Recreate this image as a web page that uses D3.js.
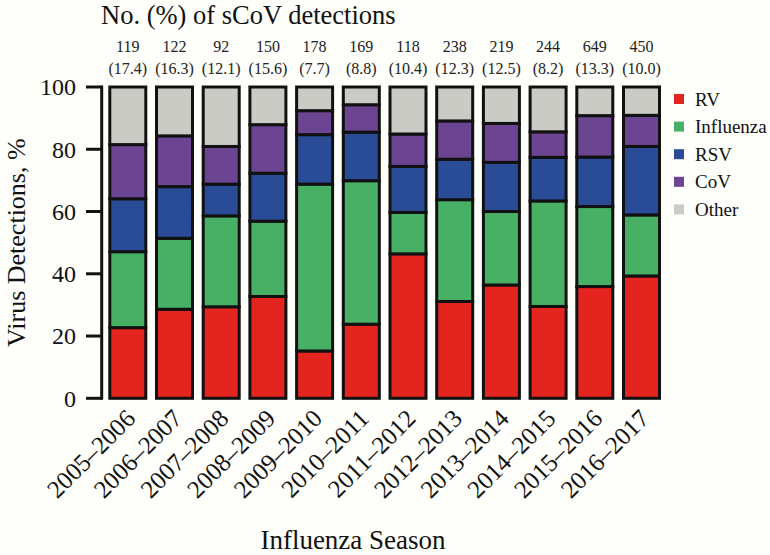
<!DOCTYPE html>
<html><head><meta charset="utf-8">
<script src="https://cdn.jsdelivr.net/npm/d3@7"></script>
<style>
html,body{margin:0;padding:0;background:#fefefa;}
svg{display:block;}
</style></head>
<body>
<script>
const seasons = ["2005–2006","2006–2007","2007–2008","2008–2009","2009–2010","2010–2011","2011–2012","2012–2013","2013–2014","2014–2015","2015–2016","2016–2017"];
const seriesNames = ["RV","Influenza","RSV","CoV","Other"];
const seriesColors = ["#e3241f","#48b065","#2a4b95","#6b4591","#cbcbc6"];
const rv        = [22.7,28.6,29.4,32.7,15.2,23.8,46.4,31.1,36.4,29.5,35.9,39.3];
const influenza = [24.4,22.8,29.2,24.2,53.6,46.1,13.3,32.7,23.6,33.9,25.7,19.6];
const rsv       = [17.0,16.6,10.2,15.4,15.9,15.6,14.8,13.0,15.8,14.0,15.9,22.0];
const cov       = [17.4,16.3,12.1,15.6,7.7,8.8,10.4,12.3,12.5,8.2,13.3,10.0];
const other     = [18.5,15.7,19.1,12.1,7.6,5.7,15.1,10.9,11.7,14.4,9.2,9.1];
const covCounts = [119,122,92,150,178,169,118,238,219,244,649,450];
const covPct    = ["17.4","16.3","12.1","15.6","7.7","8.8","10.4","12.3","12.5","8.2","13.3","10.0"];
const yTicks = [0,20,40,60,80,100];

const FONT = '"Liberation Serif", "Times New Roman", serif';
const W = 770, H = 555;
const svg = d3.select("body").append("svg").attr("width",W).attr("height",H)
  .style("font-family",FONT);
svg.append("rect").attr("width",W).attr("height",H).attr("fill","#fefefa");

const x = d3.scaleBand().domain(seasons).range([108.3,661]).paddingInner(0.165).paddingOuter(0);
const y = d3.scaleLinear().domain([0,100]).range([398.3,87]);

const valuesBySeries = [rv,influenza,rsv,cov,other];
const table = seasons.map((s,i)=>{
  const o = {season:s};
  seriesNames.forEach((n,k)=>o[n]=valuesBySeries[k][i]);
  return o;
});
const stacked = d3.stack().keys(seriesNames)(table);

const sw = 3;
const g = svg.append("g");
stacked.forEach((layer,k)=>{
  g.selectAll(null).data(layer).enter().append("rect")
    .attr("x",d=>x(d.data.season)+sw/2)
    .attr("width",x.bandwidth()-sw)
    .attr("y",d=>y(d[1]))
    .attr("height",d=>y(d[0])-y(d[1]))
    .attr("fill",seriesColors[k])
    .attr("stroke","#111")
    .attr("stroke-width",sw);
});

function txt(sel){ return sel.append("text").style("font-family",FONT).attr("fill","#111"); }

// y axis
const yAxisX = 101.7;
const ya = svg.append("g");
ya.append("line").attr("x1",yAxisX).attr("x2",yAxisX).attr("y1",y(100)-1.5).attr("y2",y(0)+1.5)
  .attr("stroke","#111").attr("stroke-width",3);
yTicks.forEach(t=>{
  ya.append("line").attr("x1",86).attr("x2",yAxisX).attr("y1",y(t)).attr("y2",y(t))
    .attr("stroke","#111").attr("stroke-width",3);
  txt(ya).attr("x",76).attr("y",y(t)).attr("dy","0.35em")
    .attr("text-anchor","end").attr("font-size",24).text(t);
});

txt(svg).attr("transform",`translate(25,${(y(0)+y(100))/2}) rotate(-90)`)
  .attr("text-anchor","middle").attr("font-size",26).text("Virus Detections, %");

// x labels
seasons.forEach(s=>{
  const cx = x(s)+x.bandwidth()/2 + 9;
  txt(svg).attr("transform",`translate(${cx},420) rotate(-45)`)
    .attr("text-anchor","end").attr("font-size",25).text(s);
});
txt(svg).attr("x",353).attr("y",549).attr("text-anchor","middle")
  .attr("font-size",27).text("Influenza Season");

// title and annotations
txt(svg).attr("x",101).attr("y",24).attr("font-size",26.5).text("No. (%) of sCoV detections");
seasons.forEach((s,i)=>{
  const cx = x(s)+x.bandwidth()/2;
  txt(svg).attr("x",cx).attr("y",52).attr("text-anchor","middle").attr("font-size",16).attr("fill","#222").text(covCounts[i]);
  txt(svg).attr("x",cx).attr("y",74).attr("text-anchor","middle").attr("font-size",16).attr("fill","#222").text("("+covPct[i]+")");
});

// legend
const lg = svg.append("g");
seriesNames.forEach((n,k)=>{
  const cy = 99 + k*27.6;
  lg.append("rect").attr("x",674).attr("y",cy-5).attr("width",10).attr("height",10).attr("fill",seriesColors[k]);
  txt(lg).attr("x",695).attr("y",cy).attr("dy","0.35em").attr("font-size",19).text(n);
});
</script>
</body></html>
